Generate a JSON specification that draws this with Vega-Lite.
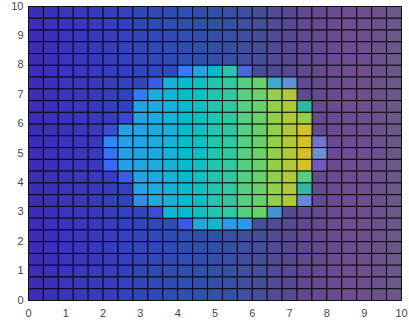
{
"$schema": "https://vega.github.io/schema/vega-lite/v6.json",
"width": 373,
"height": 294,
"autosize": {"type": "none"},
"padding": {"left": 28, "top": 6, "right": 8, "bottom": 23},
"config": {
  "view": {"stroke": null},
  "axis": {"labelFont": "Liberation Sans", "labelFontSize": 11, "labelColor": "#474747", "domainColor": "#8c8c8c", "domainWidth": 1, "ticks": false, "grid": false, "zindex": 1}
},
"datasets": {
"back": [
{"x":0,"y":9.6,"z":0},{"x":0.4,"y":9.6,"z":0.042},{"x":0.8,"y":9.6,"z":0.083},{"x":1.2,"y":9.6,"z":0.125},{"x":1.6,"y":9.6,"z":0.167},{"x":2,"y":9.6,"z":0.208},{"x":2.4,"y":9.6,"z":0.25},{"x":2.8,"y":9.6,"z":0.292},{"x":3.2,"y":9.6,"z":0.333},{"x":3.6,"y":9.6,"z":0.375},{"x":4,"y":9.6,"z":0.417},{"x":4.4,"y":9.6,"z":0.458},{"x":4.8,"y":9.6,"z":0.5},{"x":5.2,"y":9.6,"z":0.542},{"x":5.6,"y":9.6,"z":0.583},{"x":6,"y":9.6,"z":0.625},{"x":6.4,"y":9.6,"z":0.667},{"x":6.8,"y":9.6,"z":0.708},{"x":7.2,"y":9.6,"z":0.75},{"x":7.6,"y":9.6,"z":0.792},{"x":8,"y":9.6,"z":0.833},{"x":8.4,"y":9.6,"z":0.875},{"x":8.8,"y":9.6,"z":0.917},{"x":9.2,"y":9.6,"z":0.958},{"x":9.6,"y":9.6,"z":1},
{"x":0,"y":9.2,"z":0},{"x":0.4,"y":9.2,"z":0.042},{"x":0.8,"y":9.2,"z":0.083},{"x":1.2,"y":9.2,"z":0.125},{"x":1.6,"y":9.2,"z":0.167},{"x":2,"y":9.2,"z":0.208},{"x":2.4,"y":9.2,"z":0.25},{"x":2.8,"y":9.2,"z":0.292},{"x":3.2,"y":9.2,"z":0.333},{"x":3.6,"y":9.2,"z":0.375},{"x":4,"y":9.2,"z":0.417},{"x":4.4,"y":9.2,"z":0.458},{"x":4.8,"y":9.2,"z":0.5},{"x":5.2,"y":9.2,"z":0.542},{"x":5.6,"y":9.2,"z":0.583},{"x":6,"y":9.2,"z":0.625},{"x":6.4,"y":9.2,"z":0.667},{"x":6.8,"y":9.2,"z":0.708},{"x":7.2,"y":9.2,"z":0.75},{"x":7.6,"y":9.2,"z":0.792},{"x":8,"y":9.2,"z":0.833},{"x":8.4,"y":9.2,"z":0.875},{"x":8.8,"y":9.2,"z":0.917},{"x":9.2,"y":9.2,"z":0.958},{"x":9.6,"y":9.2,"z":1},
{"x":0,"y":8.8,"z":0},{"x":0.4,"y":8.8,"z":0.042},{"x":0.8,"y":8.8,"z":0.083},{"x":1.2,"y":8.8,"z":0.125},{"x":1.6,"y":8.8,"z":0.167},{"x":2,"y":8.8,"z":0.208},{"x":2.4,"y":8.8,"z":0.25},{"x":2.8,"y":8.8,"z":0.292},{"x":3.2,"y":8.8,"z":0.333},{"x":3.6,"y":8.8,"z":0.375},{"x":4,"y":8.8,"z":0.417},{"x":4.4,"y":8.8,"z":0.458},{"x":4.8,"y":8.8,"z":0.5},{"x":5.2,"y":8.8,"z":0.542},{"x":5.6,"y":8.8,"z":0.583},{"x":6,"y":8.8,"z":0.625},{"x":6.4,"y":8.8,"z":0.667},{"x":6.8,"y":8.8,"z":0.708},{"x":7.2,"y":8.8,"z":0.75},{"x":7.6,"y":8.8,"z":0.792},{"x":8,"y":8.8,"z":0.833},{"x":8.4,"y":8.8,"z":0.875},{"x":8.8,"y":8.8,"z":0.917},{"x":9.2,"y":8.8,"z":0.958},{"x":9.6,"y":8.8,"z":1},
{"x":0,"y":8.4,"z":0},{"x":0.4,"y":8.4,"z":0.042},{"x":0.8,"y":8.4,"z":0.083},{"x":1.2,"y":8.4,"z":0.125},{"x":1.6,"y":8.4,"z":0.167},{"x":2,"y":8.4,"z":0.208},{"x":2.4,"y":8.4,"z":0.25},{"x":2.8,"y":8.4,"z":0.292},{"x":3.2,"y":8.4,"z":0.333},{"x":3.6,"y":8.4,"z":0.375},{"x":4,"y":8.4,"z":0.417},{"x":4.4,"y":8.4,"z":0.458},{"x":4.8,"y":8.4,"z":0.5},{"x":5.2,"y":8.4,"z":0.542},{"x":5.6,"y":8.4,"z":0.583},{"x":6,"y":8.4,"z":0.625},{"x":6.4,"y":8.4,"z":0.667},{"x":6.8,"y":8.4,"z":0.708},{"x":7.2,"y":8.4,"z":0.75},{"x":7.6,"y":8.4,"z":0.792},{"x":8,"y":8.4,"z":0.833},{"x":8.4,"y":8.4,"z":0.875},{"x":8.8,"y":8.4,"z":0.917},{"x":9.2,"y":8.4,"z":0.958},{"x":9.6,"y":8.4,"z":1},
{"x":0,"y":8,"z":0},{"x":0.4,"y":8,"z":0.042},{"x":0.8,"y":8,"z":0.083},{"x":1.2,"y":8,"z":0.125},{"x":1.6,"y":8,"z":0.167},{"x":2,"y":8,"z":0.208},{"x":2.4,"y":8,"z":0.25},{"x":2.8,"y":8,"z":0.292},{"x":3.2,"y":8,"z":0.333},{"x":3.6,"y":8,"z":0.375},{"x":4,"y":8,"z":0.417},{"x":4.4,"y":8,"z":0.458},{"x":4.8,"y":8,"z":0.5},{"x":5.2,"y":8,"z":0.542},{"x":5.6,"y":8,"z":0.583},{"x":6,"y":8,"z":0.625},{"x":6.4,"y":8,"z":0.667},{"x":6.8,"y":8,"z":0.708},{"x":7.2,"y":8,"z":0.75},{"x":7.6,"y":8,"z":0.792},{"x":8,"y":8,"z":0.833},{"x":8.4,"y":8,"z":0.875},{"x":8.8,"y":8,"z":0.917},{"x":9.2,"y":8,"z":0.958},{"x":9.6,"y":8,"z":1},
{"x":0,"y":7.6,"z":0},{"x":0.4,"y":7.6,"z":0.042},{"x":0.8,"y":7.6,"z":0.083},{"x":1.2,"y":7.6,"z":0.125},{"x":1.6,"y":7.6,"z":0.167},{"x":2,"y":7.6,"z":0.208},{"x":2.4,"y":7.6,"z":0.25},{"x":2.8,"y":7.6,"z":0.292},{"x":3.2,"y":7.6,"z":0.333},{"x":3.6,"y":7.6,"z":0.375},{"x":6,"y":7.6,"z":0.625},{"x":6.4,"y":7.6,"z":0.667},{"x":6.8,"y":7.6,"z":0.708},{"x":7.2,"y":7.6,"z":0.75},{"x":7.6,"y":7.6,"z":0.792},{"x":8,"y":7.6,"z":0.833},{"x":8.4,"y":7.6,"z":0.875},{"x":8.8,"y":7.6,"z":0.917},{"x":9.2,"y":7.6,"z":0.958},{"x":9.6,"y":7.6,"z":1},
{"x":0,"y":7.2,"z":0},{"x":0.4,"y":7.2,"z":0.042},{"x":0.8,"y":7.2,"z":0.083},{"x":1.2,"y":7.2,"z":0.125},{"x":1.6,"y":7.2,"z":0.167},{"x":2,"y":7.2,"z":0.208},{"x":2.4,"y":7.2,"z":0.25},{"x":2.8,"y":7.2,"z":0.292},{"x":7.2,"y":7.2,"z":0.75},{"x":7.6,"y":7.2,"z":0.792},{"x":8,"y":7.2,"z":0.833},{"x":8.4,"y":7.2,"z":0.875},{"x":8.8,"y":7.2,"z":0.917},{"x":9.2,"y":7.2,"z":0.958},{"x":9.6,"y":7.2,"z":1},
{"x":0,"y":6.8,"z":0},{"x":0.4,"y":6.8,"z":0.042},{"x":0.8,"y":6.8,"z":0.083},{"x":1.2,"y":6.8,"z":0.125},{"x":1.6,"y":6.8,"z":0.167},{"x":2,"y":6.8,"z":0.208},{"x":2.4,"y":6.8,"z":0.25},{"x":7.2,"y":6.8,"z":0.75},{"x":7.6,"y":6.8,"z":0.792},{"x":8,"y":6.8,"z":0.833},{"x":8.4,"y":6.8,"z":0.875},{"x":8.8,"y":6.8,"z":0.917},{"x":9.2,"y":6.8,"z":0.958},{"x":9.6,"y":6.8,"z":1},
{"x":0,"y":6.4,"z":0},{"x":0.4,"y":6.4,"z":0.042},{"x":0.8,"y":6.4,"z":0.083},{"x":1.2,"y":6.4,"z":0.125},{"x":1.6,"y":6.4,"z":0.167},{"x":2,"y":6.4,"z":0.208},{"x":2.4,"y":6.4,"z":0.25},{"x":7.6,"y":6.4,"z":0.792},{"x":8,"y":6.4,"z":0.833},{"x":8.4,"y":6.4,"z":0.875},{"x":8.8,"y":6.4,"z":0.917},{"x":9.2,"y":6.4,"z":0.958},{"x":9.6,"y":6.4,"z":1},
{"x":0,"y":6,"z":0},{"x":0.4,"y":6,"z":0.042},{"x":0.8,"y":6,"z":0.083},{"x":1.2,"y":6,"z":0.125},{"x":1.6,"y":6,"z":0.167},{"x":2,"y":6,"z":0.208},{"x":7.6,"y":6,"z":0.792},{"x":8,"y":6,"z":0.833},{"x":8.4,"y":6,"z":0.875},{"x":8.8,"y":6,"z":0.917},{"x":9.2,"y":6,"z":0.958},{"x":9.6,"y":6,"z":1},
{"x":0,"y":5.6,"z":0},{"x":0.4,"y":5.6,"z":0.042},{"x":0.8,"y":5.6,"z":0.083},{"x":1.2,"y":5.6,"z":0.125},{"x":1.6,"y":5.6,"z":0.167},{"x":7.6,"y":5.6,"z":0.792},{"x":8,"y":5.6,"z":0.833},{"x":8.4,"y":5.6,"z":0.875},{"x":8.8,"y":5.6,"z":0.917},{"x":9.2,"y":5.6,"z":0.958},{"x":9.6,"y":5.6,"z":1},
{"x":0,"y":5.2,"z":0},{"x":0.4,"y":5.2,"z":0.042},{"x":0.8,"y":5.2,"z":0.083},{"x":1.2,"y":5.2,"z":0.125},{"x":1.6,"y":5.2,"z":0.167},{"x":8,"y":5.2,"z":0.833},{"x":8.4,"y":5.2,"z":0.875},{"x":8.8,"y":5.2,"z":0.917},{"x":9.2,"y":5.2,"z":0.958},{"x":9.6,"y":5.2,"z":1},
{"x":0,"y":4.8,"z":0},{"x":0.4,"y":4.8,"z":0.042},{"x":0.8,"y":4.8,"z":0.083},{"x":1.2,"y":4.8,"z":0.125},{"x":1.6,"y":4.8,"z":0.167},{"x":8,"y":4.8,"z":0.833},{"x":8.4,"y":4.8,"z":0.875},{"x":8.8,"y":4.8,"z":0.917},{"x":9.2,"y":4.8,"z":0.958},{"x":9.6,"y":4.8,"z":1},
{"x":0,"y":4.4,"z":0},{"x":0.4,"y":4.4,"z":0.042},{"x":0.8,"y":4.4,"z":0.083},{"x":1.2,"y":4.4,"z":0.125},{"x":1.6,"y":4.4,"z":0.167},{"x":8,"y":4.4,"z":0.833},{"x":8.4,"y":4.4,"z":0.875},{"x":8.8,"y":4.4,"z":0.917},{"x":9.2,"y":4.4,"z":0.958},{"x":9.6,"y":4.4,"z":1},
{"x":0,"y":4,"z":0},{"x":0.4,"y":4,"z":0.042},{"x":0.8,"y":4,"z":0.083},{"x":1.2,"y":4,"z":0.125},{"x":1.6,"y":4,"z":0.167},{"x":2,"y":4,"z":0.208},{"x":7.6,"y":4,"z":0.792},{"x":8,"y":4,"z":0.833},{"x":8.4,"y":4,"z":0.875},{"x":8.8,"y":4,"z":0.917},{"x":9.2,"y":4,"z":0.958},{"x":9.6,"y":4,"z":1},
{"x":0,"y":3.6,"z":0},{"x":0.4,"y":3.6,"z":0.042},{"x":0.8,"y":3.6,"z":0.083},{"x":1.2,"y":3.6,"z":0.125},{"x":1.6,"y":3.6,"z":0.167},{"x":2,"y":3.6,"z":0.208},{"x":2.4,"y":3.6,"z":0.25},{"x":7.6,"y":3.6,"z":0.792},{"x":8,"y":3.6,"z":0.833},{"x":8.4,"y":3.6,"z":0.875},{"x":8.8,"y":3.6,"z":0.917},{"x":9.2,"y":3.6,"z":0.958},{"x":9.6,"y":3.6,"z":1},
{"x":0,"y":3.2,"z":0},{"x":0.4,"y":3.2,"z":0.042},{"x":0.8,"y":3.2,"z":0.083},{"x":1.2,"y":3.2,"z":0.125},{"x":1.6,"y":3.2,"z":0.167},{"x":2,"y":3.2,"z":0.208},{"x":2.4,"y":3.2,"z":0.25},{"x":7.6,"y":3.2,"z":0.792},{"x":8,"y":3.2,"z":0.833},{"x":8.4,"y":3.2,"z":0.875},{"x":8.8,"y":3.2,"z":0.917},{"x":9.2,"y":3.2,"z":0.958},{"x":9.6,"y":3.2,"z":1},
{"x":0,"y":2.8,"z":0},{"x":0.4,"y":2.8,"z":0.042},{"x":0.8,"y":2.8,"z":0.083},{"x":1.2,"y":2.8,"z":0.125},{"x":1.6,"y":2.8,"z":0.167},{"x":2,"y":2.8,"z":0.208},{"x":2.4,"y":2.8,"z":0.25},{"x":2.8,"y":2.8,"z":0.292},{"x":6.8,"y":2.8,"z":0.708},{"x":7.2,"y":2.8,"z":0.75},{"x":7.6,"y":2.8,"z":0.792},{"x":8,"y":2.8,"z":0.833},{"x":8.4,"y":2.8,"z":0.875},{"x":8.8,"y":2.8,"z":0.917},{"x":9.2,"y":2.8,"z":0.958},{"x":9.6,"y":2.8,"z":1},
{"x":0,"y":2.4,"z":0},{"x":0.4,"y":2.4,"z":0.042},{"x":0.8,"y":2.4,"z":0.083},{"x":1.2,"y":2.4,"z":0.125},{"x":1.6,"y":2.4,"z":0.167},{"x":2,"y":2.4,"z":0.208},{"x":2.4,"y":2.4,"z":0.25},{"x":2.8,"y":2.4,"z":0.292},{"x":3.2,"y":2.4,"z":0.333},{"x":3.6,"y":2.4,"z":0.375},{"x":6,"y":2.4,"z":0.625},{"x":6.4,"y":2.4,"z":0.667},{"x":6.8,"y":2.4,"z":0.708},{"x":7.2,"y":2.4,"z":0.75},{"x":7.6,"y":2.4,"z":0.792},{"x":8,"y":2.4,"z":0.833},{"x":8.4,"y":2.4,"z":0.875},{"x":8.8,"y":2.4,"z":0.917},{"x":9.2,"y":2.4,"z":0.958},{"x":9.6,"y":2.4,"z":1},
{"x":0,"y":2,"z":0},{"x":0.4,"y":2,"z":0.042},{"x":0.8,"y":2,"z":0.083},{"x":1.2,"y":2,"z":0.125},{"x":1.6,"y":2,"z":0.167},{"x":2,"y":2,"z":0.208},{"x":2.4,"y":2,"z":0.25},{"x":2.8,"y":2,"z":0.292},{"x":3.2,"y":2,"z":0.333},{"x":3.6,"y":2,"z":0.375},{"x":4,"y":2,"z":0.417},{"x":4.4,"y":2,"z":0.458},{"x":4.8,"y":2,"z":0.5},{"x":5.2,"y":2,"z":0.542},{"x":5.6,"y":2,"z":0.583},{"x":6,"y":2,"z":0.625},{"x":6.4,"y":2,"z":0.667},{"x":6.8,"y":2,"z":0.708},{"x":7.2,"y":2,"z":0.75},{"x":7.6,"y":2,"z":0.792},{"x":8,"y":2,"z":0.833},{"x":8.4,"y":2,"z":0.875},{"x":8.8,"y":2,"z":0.917},{"x":9.2,"y":2,"z":0.958},{"x":9.6,"y":2,"z":1},
{"x":0,"y":1.6,"z":0},{"x":0.4,"y":1.6,"z":0.042},{"x":0.8,"y":1.6,"z":0.083},{"x":1.2,"y":1.6,"z":0.125},{"x":1.6,"y":1.6,"z":0.167},{"x":2,"y":1.6,"z":0.208},{"x":2.4,"y":1.6,"z":0.25},{"x":2.8,"y":1.6,"z":0.292},{"x":3.2,"y":1.6,"z":0.333},{"x":3.6,"y":1.6,"z":0.375},{"x":4,"y":1.6,"z":0.417},{"x":4.4,"y":1.6,"z":0.458},{"x":4.8,"y":1.6,"z":0.5},{"x":5.2,"y":1.6,"z":0.542},{"x":5.6,"y":1.6,"z":0.583},{"x":6,"y":1.6,"z":0.625},{"x":6.4,"y":1.6,"z":0.667},{"x":6.8,"y":1.6,"z":0.708},{"x":7.2,"y":1.6,"z":0.75},{"x":7.6,"y":1.6,"z":0.792},{"x":8,"y":1.6,"z":0.833},{"x":8.4,"y":1.6,"z":0.875},{"x":8.8,"y":1.6,"z":0.917},{"x":9.2,"y":1.6,"z":0.958},{"x":9.6,"y":1.6,"z":1},
{"x":0,"y":1.2,"z":0},{"x":0.4,"y":1.2,"z":0.042},{"x":0.8,"y":1.2,"z":0.083},{"x":1.2,"y":1.2,"z":0.125},{"x":1.6,"y":1.2,"z":0.167},{"x":2,"y":1.2,"z":0.208},{"x":2.4,"y":1.2,"z":0.25},{"x":2.8,"y":1.2,"z":0.292},{"x":3.2,"y":1.2,"z":0.333},{"x":3.6,"y":1.2,"z":0.375},{"x":4,"y":1.2,"z":0.417},{"x":4.4,"y":1.2,"z":0.458},{"x":4.8,"y":1.2,"z":0.5},{"x":5.2,"y":1.2,"z":0.542},{"x":5.6,"y":1.2,"z":0.583},{"x":6,"y":1.2,"z":0.625},{"x":6.4,"y":1.2,"z":0.667},{"x":6.8,"y":1.2,"z":0.708},{"x":7.2,"y":1.2,"z":0.75},{"x":7.6,"y":1.2,"z":0.792},{"x":8,"y":1.2,"z":0.833},{"x":8.4,"y":1.2,"z":0.875},{"x":8.8,"y":1.2,"z":0.917},{"x":9.2,"y":1.2,"z":0.958},{"x":9.6,"y":1.2,"z":1},
{"x":0,"y":0.8,"z":0},{"x":0.4,"y":0.8,"z":0.042},{"x":0.8,"y":0.8,"z":0.083},{"x":1.2,"y":0.8,"z":0.125},{"x":1.6,"y":0.8,"z":0.167},{"x":2,"y":0.8,"z":0.208},{"x":2.4,"y":0.8,"z":0.25},{"x":2.8,"y":0.8,"z":0.292},{"x":3.2,"y":0.8,"z":0.333},{"x":3.6,"y":0.8,"z":0.375},{"x":4,"y":0.8,"z":0.417},{"x":4.4,"y":0.8,"z":0.458},{"x":4.8,"y":0.8,"z":0.5},{"x":5.2,"y":0.8,"z":0.542},{"x":5.6,"y":0.8,"z":0.583},{"x":6,"y":0.8,"z":0.625},{"x":6.4,"y":0.8,"z":0.667},{"x":6.8,"y":0.8,"z":0.708},{"x":7.2,"y":0.8,"z":0.75},{"x":7.6,"y":0.8,"z":0.792},{"x":8,"y":0.8,"z":0.833},{"x":8.4,"y":0.8,"z":0.875},{"x":8.8,"y":0.8,"z":0.917},{"x":9.2,"y":0.8,"z":0.958},{"x":9.6,"y":0.8,"z":1},
{"x":0,"y":0.4,"z":0},{"x":0.4,"y":0.4,"z":0.042},{"x":0.8,"y":0.4,"z":0.083},{"x":1.2,"y":0.4,"z":0.125},{"x":1.6,"y":0.4,"z":0.167},{"x":2,"y":0.4,"z":0.208},{"x":2.4,"y":0.4,"z":0.25},{"x":2.8,"y":0.4,"z":0.292},{"x":3.2,"y":0.4,"z":0.333},{"x":3.6,"y":0.4,"z":0.375},{"x":4,"y":0.4,"z":0.417},{"x":4.4,"y":0.4,"z":0.458},{"x":4.8,"y":0.4,"z":0.5},{"x":5.2,"y":0.4,"z":0.542},{"x":5.6,"y":0.4,"z":0.583},{"x":6,"y":0.4,"z":0.625},{"x":6.4,"y":0.4,"z":0.667},{"x":6.8,"y":0.4,"z":0.708},{"x":7.2,"y":0.4,"z":0.75},{"x":7.6,"y":0.4,"z":0.792},{"x":8,"y":0.4,"z":0.833},{"x":8.4,"y":0.4,"z":0.875},{"x":8.8,"y":0.4,"z":0.917},{"x":9.2,"y":0.4,"z":0.958},{"x":9.6,"y":0.4,"z":1},
{"x":0,"y":0,"z":0},{"x":0.4,"y":0,"z":0.042},{"x":0.8,"y":0,"z":0.083},{"x":1.2,"y":0,"z":0.125},{"x":1.6,"y":0,"z":0.167},{"x":2,"y":0,"z":0.208},{"x":2.4,"y":0,"z":0.25},{"x":2.8,"y":0,"z":0.292},{"x":3.2,"y":0,"z":0.333},{"x":3.6,"y":0,"z":0.375},{"x":4,"y":0,"z":0.417},{"x":4.4,"y":0,"z":0.458},{"x":4.8,"y":0,"z":0.5},{"x":5.2,"y":0,"z":0.542},{"x":5.6,"y":0,"z":0.583},{"x":6,"y":0,"z":0.625},{"x":6.4,"y":0,"z":0.667},{"x":6.8,"y":0,"z":0.708},{"x":7.2,"y":0,"z":0.75},{"x":7.6,"y":0,"z":0.792},{"x":8,"y":0,"z":0.833},{"x":8.4,"y":0,"z":0.875},{"x":8.8,"y":0,"z":0.917},{"x":9.2,"y":0,"z":0.958},{"x":9.6,"y":0,"z":1}
],
"blob": [
{"x":4,"y":7.6,"z":0.18},{"x":4.4,"y":7.6,"z":0.29},{"x":4.8,"y":7.6,"z":0.38},{"x":5.2,"y":7.6,"z":0.52},{"x":5.6,"y":7.6,"z":-0.4},
{"x":3.2,"y":7.2,"z":0.1},{"x":3.6,"y":7.2,"z":0.35},{"x":4,"y":7.2,"z":0.4},{"x":4.4,"y":7.2,"z":0.45},{"x":4.8,"y":7.2,"z":0.5},{"x":5.2,"y":7.2,"z":0.55},{"x":5.6,"y":7.2,"z":0.6},{"x":6,"y":7.2,"z":0.65},{"x":6.4,"y":7.2,"z":-0.2},{"x":6.8,"y":7.2,"z":-0.5},
{"x":2.8,"y":6.8,"z":0.18},{"x":3.2,"y":6.8,"z":0.32},{"x":3.6,"y":6.8,"z":0.35},{"x":4,"y":6.8,"z":0.4},{"x":4.4,"y":6.8,"z":0.45},{"x":4.8,"y":6.8,"z":0.5},{"x":5.2,"y":6.8,"z":0.55},{"x":5.6,"y":6.8,"z":0.6},{"x":6,"y":6.8,"z":0.65},{"x":6.4,"y":6.8,"z":0.7},{"x":6.8,"y":6.8,"z":0.75},
{"x":2.8,"y":6.4,"z":0.29},{"x":3.2,"y":6.4,"z":0.32},{"x":3.6,"y":6.4,"z":0.35},{"x":4,"y":6.4,"z":0.4},{"x":4.4,"y":6.4,"z":0.45},{"x":4.8,"y":6.4,"z":0.5},{"x":5.2,"y":6.4,"z":0.55},{"x":5.6,"y":6.4,"z":0.6},{"x":6,"y":6.4,"z":0.65},{"x":6.4,"y":6.4,"z":0.7},{"x":6.8,"y":6.4,"z":0.75},{"x":7.2,"y":6.4,"z":-0.1},
{"x":2.4,"y":6,"z":0.04},{"x":2.8,"y":6,"z":0.3},{"x":3.2,"y":6,"z":0.32},{"x":3.6,"y":6,"z":0.35},{"x":4,"y":6,"z":0.4},{"x":4.4,"y":6,"z":0.45},{"x":4.8,"y":6,"z":0.5},{"x":5.2,"y":6,"z":0.55},{"x":5.6,"y":6,"z":0.6},{"x":6,"y":6,"z":0.65},{"x":6.4,"y":6,"z":0.7},{"x":6.8,"y":6,"z":0.75},{"x":7.2,"y":6,"z":0.7},
{"x":2,"y":5.6,"z":0.06},{"x":2.4,"y":5.6,"z":0.28},{"x":2.8,"y":5.6,"z":0.3},{"x":3.2,"y":5.6,"z":0.32},{"x":3.6,"y":5.6,"z":0.35},{"x":4,"y":5.6,"z":0.4},{"x":4.4,"y":5.6,"z":0.45},{"x":4.8,"y":5.6,"z":0.5},{"x":5.2,"y":5.6,"z":0.55},{"x":5.6,"y":5.6,"z":0.6},{"x":6,"y":5.6,"z":0.65},{"x":6.4,"y":5.6,"z":0.7},{"x":6.8,"y":5.6,"z":0.75},{"x":7.2,"y":5.6,"z":0.8},
{"x":2,"y":5.2,"z":0.2},{"x":2.4,"y":5.2,"z":0.28},{"x":2.8,"y":5.2,"z":0.3},{"x":3.2,"y":5.2,"z":0.32},{"x":3.6,"y":5.2,"z":0.35},{"x":4,"y":5.2,"z":0.4},{"x":4.4,"y":5.2,"z":0.45},{"x":4.8,"y":5.2,"z":0.5},{"x":5.2,"y":5.2,"z":0.55},{"x":5.6,"y":5.2,"z":0.6},{"x":6,"y":5.2,"z":0.65},{"x":6.4,"y":5.2,"z":0.7},{"x":6.8,"y":5.2,"z":0.75},{"x":7.2,"y":5.2,"z":0.8},{"x":7.6,"y":5.2,"z":-0.8},
{"x":2,"y":4.8,"z":0.15},{"x":2.4,"y":4.8,"z":0.28},{"x":2.8,"y":4.8,"z":0.3},{"x":3.2,"y":4.8,"z":0.32},{"x":3.6,"y":4.8,"z":0.35},{"x":4,"y":4.8,"z":0.4},{"x":4.4,"y":4.8,"z":0.45},{"x":4.8,"y":4.8,"z":0.5},{"x":5.2,"y":4.8,"z":0.55},{"x":5.6,"y":4.8,"z":0.6},{"x":6,"y":4.8,"z":0.65},{"x":6.4,"y":4.8,"z":0.7},{"x":6.8,"y":4.8,"z":0.75},{"x":7.2,"y":4.8,"z":0.8},{"x":7.6,"y":4.8,"z":-0.7},
{"x":2,"y":4.4,"z":0.13},{"x":2.4,"y":4.4,"z":0.28},{"x":2.8,"y":4.4,"z":0.3},{"x":3.2,"y":4.4,"z":0.32},{"x":3.6,"y":4.4,"z":0.35},{"x":4,"y":4.4,"z":0.4},{"x":4.4,"y":4.4,"z":0.45},{"x":4.8,"y":4.4,"z":0.5},{"x":5.2,"y":4.4,"z":0.55},{"x":5.6,"y":4.4,"z":0.6},{"x":6,"y":4.4,"z":0.65},{"x":6.4,"y":4.4,"z":0.7},{"x":6.8,"y":4.4,"z":0.75},{"x":7.2,"y":4.4,"z":0.8},{"x":7.6,"y":4.4,"z":-0.9},
{"x":2.4,"y":4,"z":0.1},{"x":2.8,"y":4,"z":0.3},{"x":3.2,"y":4,"z":0.32},{"x":3.6,"y":4,"z":0.35},{"x":4,"y":4,"z":0.4},{"x":4.4,"y":4,"z":0.45},{"x":4.8,"y":4,"z":0.5},{"x":5.2,"y":4,"z":0.55},{"x":5.6,"y":4,"z":0.6},{"x":6,"y":4,"z":0.65},{"x":6.4,"y":4,"z":0.7},{"x":6.8,"y":4,"z":0.75},{"x":7.2,"y":4,"z":0.6},
{"x":2.8,"y":3.6,"z":0.29},{"x":3.2,"y":3.6,"z":0.32},{"x":3.6,"y":3.6,"z":0.35},{"x":4,"y":3.6,"z":0.4},{"x":4.4,"y":3.6,"z":0.45},{"x":4.8,"y":3.6,"z":0.5},{"x":5.2,"y":3.6,"z":0.55},{"x":5.6,"y":3.6,"z":0.6},{"x":6,"y":3.6,"z":0.65},{"x":6.4,"y":3.6,"z":0.7},{"x":6.8,"y":3.6,"z":0.75},{"x":7.2,"y":3.6,"z":-0.1},
{"x":2.8,"y":3.2,"z":0.22},{"x":3.2,"y":3.2,"z":0.32},{"x":3.6,"y":3.2,"z":0.35},{"x":4,"y":3.2,"z":0.4},{"x":4.4,"y":3.2,"z":0.45},{"x":4.8,"y":3.2,"z":0.5},{"x":5.2,"y":3.2,"z":0.55},{"x":5.6,"y":3.2,"z":0.6},{"x":6,"y":3.2,"z":0.65},{"x":6.4,"y":3.2,"z":0.7},{"x":6.8,"y":3.2,"z":0.75},{"x":7.2,"y":3.2,"z":-0.6},
{"x":3.2,"y":2.8,"z":0.06},{"x":3.6,"y":2.8,"z":0.37},{"x":4,"y":2.8,"z":0.4},{"x":4.4,"y":2.8,"z":0.45},{"x":4.8,"y":2.8,"z":0.5},{"x":5.2,"y":2.8,"z":0.55},{"x":5.6,"y":2.8,"z":0.6},{"x":6,"y":2.8,"z":0.65},{"x":6.4,"y":2.8,"z":-0.3},
{"x":4,"y":2.4,"z":0.09},{"x":4.4,"y":2.4,"z":0.32},{"x":4.8,"y":2.4,"z":0.38},{"x":5.2,"y":2.4,"z":0.25},{"x":5.6,"y":2.4,"z":0.25}
]
},
"layer": [
  {
    "data": {"name": "back"},
    "mark": {"type": "rect", "stroke": "#000000", "strokeWidth": 1, "strokeOpacity": 0.85},
    "encoding": {
      "x": {"field": "x", "type": "quantitative", "bin": {"binned": true, "step": 0.4}, "title": null,
            "scale": {"domain": [0, 10], "nice": false, "zero": false},
            "axis": {"orient": "bottom", "values": [0,1,2,3,4,5,6,7,8,9,10], "format": "d", "labelPadding": 7, "labelFlush": false, "labelOverlap": false}},
      "y": {"field": "y", "type": "quantitative", "bin": {"binned": true, "step": 0.4}, "title": null,
            "scale": {"domain": [0, 10], "nice": false, "zero": false},
            "axis": {"orient": "left", "values": [0,1,2,3,4,5,6,7,8,9,10], "format": "d", "labelPadding": 5, "labelFlush": false, "labelOverlap": false}},
      "color": {"field": "z", "type": "quantitative", "legend": null,
                "scale": {"type": "linear", "interpolate": "rgb",
                          "domain": [0, 0.125, 0.25, 0.375, 0.458, 0.542, 0.625, 0.708, 0.792, 0.875, 0.958, 1],
                          "range": ["#3b2db8", "#3a37be", "#3441be", "#2f4cb6", "#2e50ac", "#3850a4", "#484d98", "#584a90", "#664a8e", "#704c90", "#6c528c", "#6a588a"]}}
    }
  },
  {
    "data": {"name": "blob"},
    "mark": {"type": "rect", "stroke": "#000000", "strokeWidth": 1, "strokeOpacity": 0.85},
    "encoding": {
      "x": {"field": "x", "type": "quantitative", "bin": {"binned": true, "step": 0.4}, "title": null,
            "axis": {"orient": "top", "labels": false, "values": [0,10]}},
      "y": {"field": "y", "type": "quantitative", "bin": {"binned": true, "step": 0.4}, "title": null,
            "axis": {"orient": "right", "labels": false, "values": [0,10]}},
      "color": {"field": "z", "type": "quantitative", "legend": null,
                "scale": {"type": "linear", "interpolate": "rgb",
                          "domain": [-0.9, -0.8, -0.7, -0.6, -0.5, -0.4, -0.3, -0.2, -0.1, 0, 0.05, 0.1, 0.15, 0.2, 0.25, 0.3, 0.35, 0.4, 0.45, 0.5, 0.55, 0.6, 0.65, 0.7, 0.75, 0.8],
                          "range": ["#7058c0", "#7474cc", "#7090d0", "#6888d8", "#6090d8", "#4a68d8", "#4494d4", "#40a8c8", "#30b8a0", "#3a40c8", "#3c48d6", "#3d5ce6", "#3570f8", "#2f86f6", "#2e98e8", "#22a4e2", "#16b2d8", "#06bbcb", "#0fc0be", "#22c5ae", "#2ec8a2", "#56cf82", "#6ad06c", "#94cf4c", "#b2c83c", "#d4c028"]}}
    }
  }
],
"resolve": {"scale": {"color": "independent"}, "axis": {"x": "independent", "y": "independent"}}
}
